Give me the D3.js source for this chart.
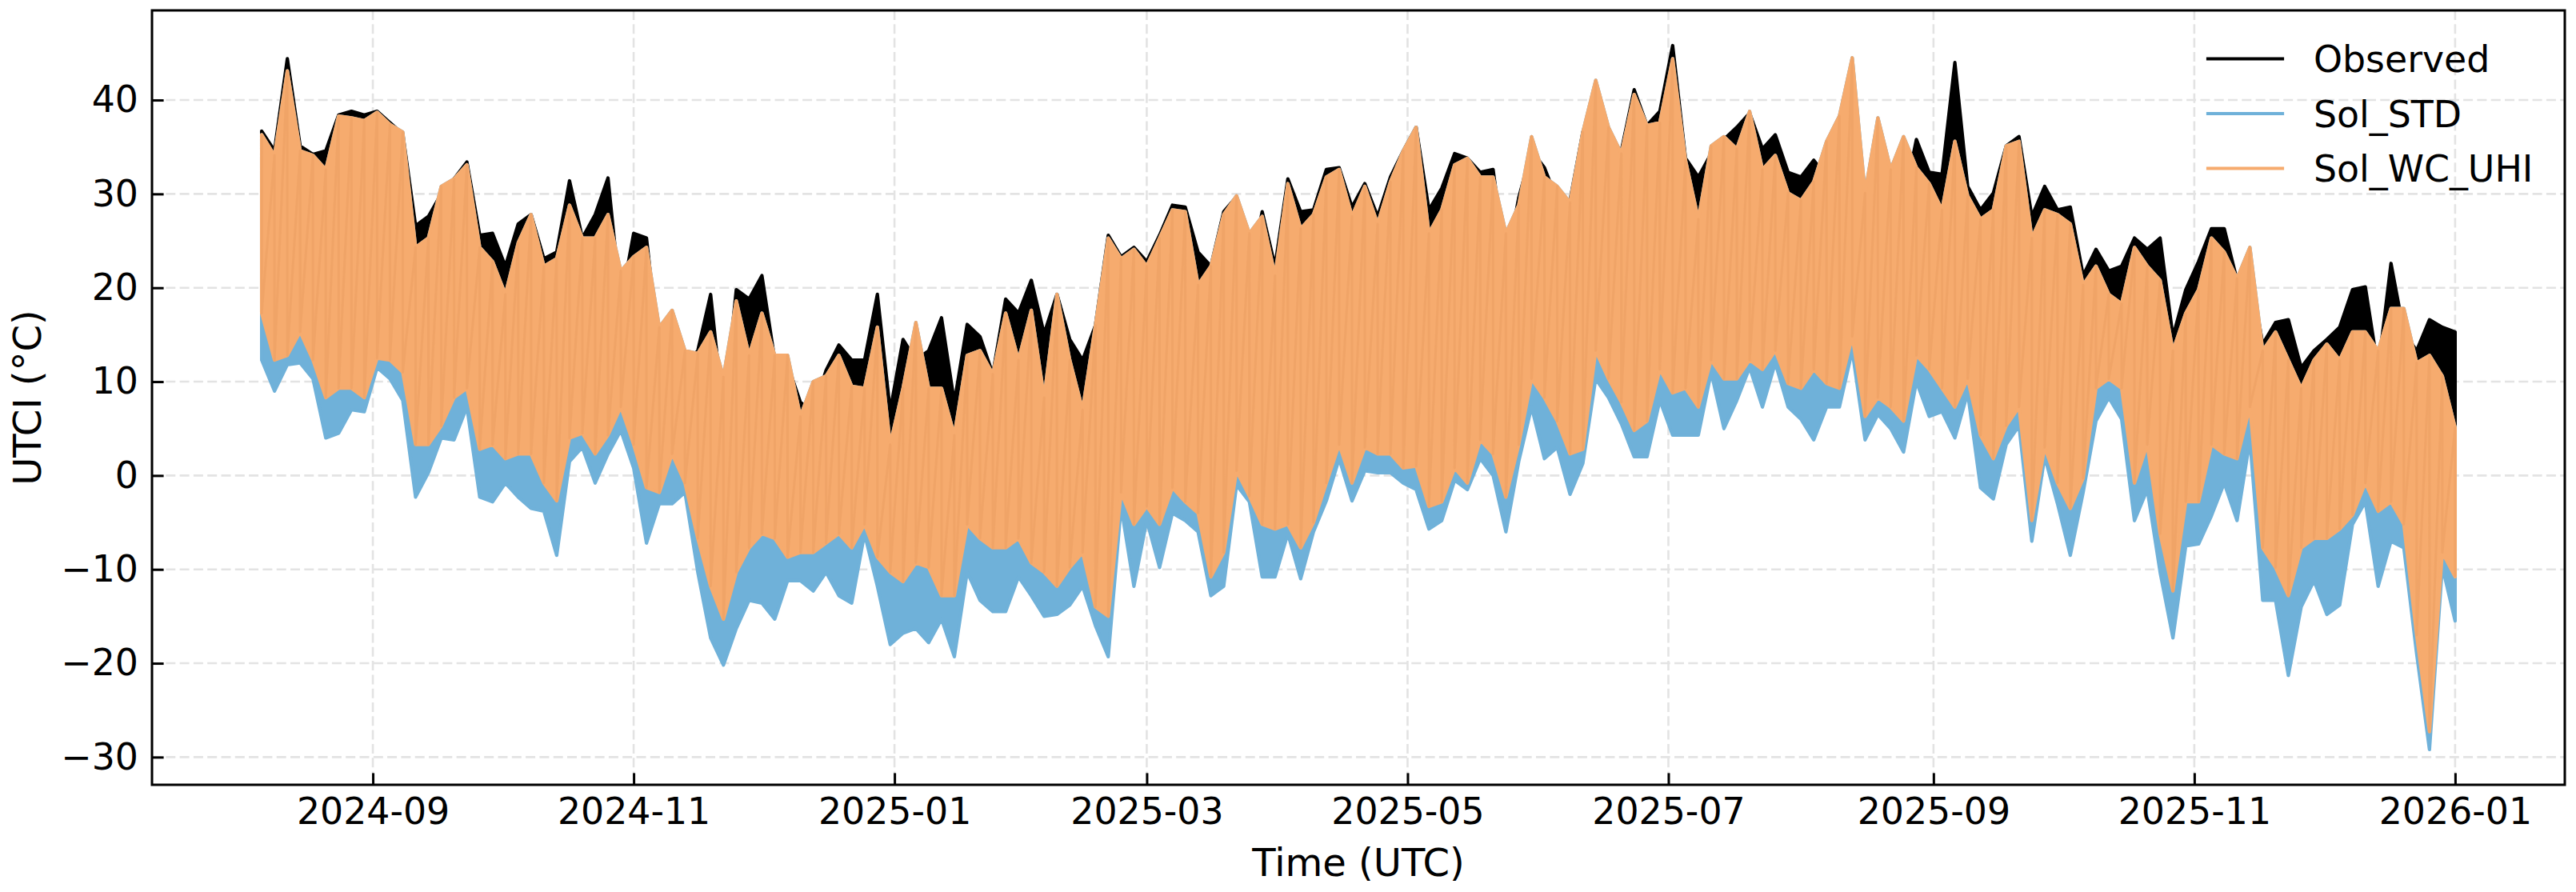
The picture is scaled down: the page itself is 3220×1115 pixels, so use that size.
<!DOCTYPE html>
<html>
<head>
<meta charset="utf-8">
<script src="https://cdn.jsdelivr.net/npm/d3@7"></script>
<style>
	body { margin: 0; background: #fff; }
	svg { display: block; font-family: "DejaVu Sans", sans-serif; }
</style>
</head>
<body>
<div id="chart"></div>
<script>
// 3-day envelopes, first window starts 2024-08-06
var start_date = '2024-08-06';
var step_days  = 3;

var obs_max = [36.7,34.6,44.4,35.1,34.2,34.6,38.4,38.8,38.4,38.8,37.6,36.4,26.6,27.6,30.0,31.6,33.4,25.6,25.8,22.3,26.8,27.8,
	23.1,23.8,31.4,25.3,27.8,31.7,18.3,25.8,25.3,12.8,14.0,11.8,13.3,19.3,6.3,19.8,18.8,21.3,12.3,11.8,7.8,
	6.8,11.2,13.9,12.3,12.3,19.3,6.9,14.5,12.3,13.3,16.8,7.8,16.1,14.8,10.8,18.8,17.3,20.8,15.1,19.3,14.5,12.3,
	16.0,25.6,23.3,24.3,22.8,25.6,28.8,28.6,23.8,22.3,28.1,29.7,21.3,28.1,22.3,31.6,28.1,28.3,32.6,32.8,28.6,
	31.1,27.6,31.8,34.6,37.1,28.3,30.6,34.3,33.8,32.3,32.6,22.3,29.6,34.6,32.8,29.3,29.3,36.6,40.4,31.8,34.6,41.1,
	37.3,38.8,45.8,33.8,31.8,34.3,35.8,37.1,38.6,34.8,36.3,32.3,31.8,33.6,31.8,37.8,42.9,27.1,35.3,32.8,29.1,
	35.8,32.3,32.1,44.0,30.8,28.3,30.1,35.1,36.1,27.6,30.8,28.3,28.6,21.3,24.1,21.8,22.3,25.3,24.1,25.3,14.8,19.8,
	22.8,26.3,26.3,20.8,21.8,14.0,16.3,16.6,11.5,13.3,14.5,15.8,19.8,20.1,11.3,22.6,15.3,13.3,16.6,15.8,15.3];

var uhi_max = [36.3,34.1,43.1,34.6,34.1,32.6,38.3,38.1,37.8,38.7,37.4,36.6,24.3,25.3,30.8,31.6,33.1,24.3,22.8,19.3,24.8,27.8,
	22.3,23.1,28.8,25.3,25.3,27.8,21.8,23.3,24.3,15.8,17.6,13.3,13.0,15.3,10.5,18.6,12.8,17.3,12.8,12.8,6.3,
	10.0,10.6,12.8,9.5,9.3,15.8,3.3,9.3,16.3,9.3,9.3,4.3,12.8,13.3,10.8,17.3,12.3,17.6,8.3,19.3,12.3,7.0,
	16.0,25.3,23.1,24.1,22.3,25.3,28.3,28.1,20.3,22.3,27.8,29.8,25.8,27.6,21.3,31.1,26.3,27.8,31.8,32.6,27.6,
	30.8,26.8,31.3,34.6,37.1,25.8,28.3,33.1,33.8,31.8,31.8,25.8,28.8,36.1,31.8,30.8,29.1,36.6,42.1,37.1,34.3,40.6,
	37.3,37.6,44.4,33.6,27.3,35.1,36.1,34.8,38.8,32.6,34.1,30.1,29.3,31.3,35.6,38.3,44.5,30.1,38.1,32.6,36.1,
	32.8,31.1,28.3,35.6,29.8,27.3,28.3,35.1,35.6,25.3,28.3,27.8,26.8,20.3,22.3,19.3,18.3,24.3,22.3,20.8,13.3,17.3,
	19.8,25.3,23.8,21.0,24.3,13.3,15.3,12.3,9.3,12.3,14.0,12.3,15.3,15.3,13.3,17.8,17.8,12.0,12.8,10.6,5.1];

var uhi_min = [17.3,12.3,12.8,15.3,12.3,8.3,9.3,9.3,8.3,12.5,12.3,11.0,3.3,3.3,5.3,8.3,9.3,2.8,3.3,1.8,2.3,2.3,
	-0.8,-2.7,4.0,4.5,2.3,4.3,7.3,3.3,-1.3,-1.8,2.3,-0.8,-6.7,-11.8,-15.3,-10.3,-7.7,-6.2,-6.7,-8.7,-8.2,
	-8.2,-7.2,-6.2,-7.7,-5.2,-8.7,-10.3,-11.3,-9.3,-9.8,-12.8,-12.8,-5.2,-6.7,-7.7,-7.7,-6.7,-9.3,-10.3,-11.8,-9.8,-8.2,
	-14.0,-15.0,-1.8,-5.2,-3.3,-5.2,-1.3,-2.8,-4.0,-10.8,-8.2,0.5,-2.2,-5.2,-5.7,-5.2,-7.7,-5.0,-0.8,3.3,-0.8,
	3.0,2.3,2.3,0.8,1.0,-3.3,-2.8,0.8,-0.8,3.8,2.3,-2.3,3.3,10.3,8.3,5.8,2.3,2.8,13.3,10.3,7.8,4.8,
	5.8,11.3,8.8,9.3,7.3,12.3,10.3,10.3,12.3,11.3,13.3,9.8,9.3,11.3,9.8,9.3,14.8,6.3,8.3,7.3,5.8,
	12.8,11.3,9.3,7.3,10.3,4.3,1.8,5.3,7.3,-4.8,3.0,-0.8,-3.5,-0.3,9.3,10.3,9.3,-0.8,3.3,-6.2,-12.3,-2.8,
	-2.8,3.3,2.3,1.8,7.3,-7.7,-9.8,-12.8,-7.7,-6.7,-6.7,-5.7,-4.2,-0.8,-3.8,-2.8,-5.2,-17.0,-27.3,-8.2,-10.8];

var std_min = [12.3,9.0,11.8,12.0,10.3,4.0,4.5,7.0,6.8,11.5,10.3,8.0,-2.3,0.3,4.0,3.8,7.3,-2.3,-2.8,-0.8,-2.3,-3.5,
	-3.8,-8.5,1.5,3.0,-0.8,2.3,4.8,0.8,-7.2,-3.0,-3.0,-1.8,-10.3,-17.3,-20.2,-16.3,-13.3,-13.6,-15.3,-11.2,-11.2,
	-12.3,-10.3,-12.8,-13.6,-6.2,-11.8,-18.0,-16.8,-16.3,-17.8,-15.3,-19.3,-10.3,-13.3,-14.5,-14.5,-10.8,-12.8,-15.0,-14.8,-13.8,-11.8,
	-16.0,-19.3,-3.3,-11.8,-4.8,-9.8,-4.0,-4.8,-6.0,-12.8,-11.8,-1.0,-2.8,-10.8,-10.8,-6.2,-11.0,-6.0,-2.7,1.8,-2.7,
	0.5,0.3,0.3,-0.8,-1.5,-5.7,-4.8,-0.5,-1.5,1.8,0.0,-6.0,1.5,7.3,1.8,3.0,-2.0,1.3,10.3,8.3,5.5,2.0,
	2.0,8.0,4.3,4.3,4.3,11.0,5.0,8.0,11.5,7.3,12.0,7.3,6.0,3.8,7.3,7.3,13.3,3.8,6.5,5.0,2.5,
	10.0,6.3,6.8,4.0,8.8,-1.3,-2.5,3.3,5.3,-7.0,2.0,-3.0,-8.5,-1.8,5.8,8.3,6.0,-4.8,-1.5,-10.3,-17.3,-7.5,
	-7.3,-4.3,-0.8,-4.8,3.8,-13.3,-13.3,-21.3,-14.0,-11.2,-14.8,-13.8,-5.2,-2.8,-11.8,-7.0,-7.7,-19.0,-29.2,-9.7,-15.5];

// the Observed trough and the Sol_STD peak are hidden under the orange band
var obs_min = uhi_min;
var std_max = uhi_max;

var series_names  = ['Observed', 'Sol_STD', 'Sol_WC_UHI'];
var series_colors = ['#000000', '#6fb1d9', '#f6ab6e'];
var y_ticks       = [-30, -20, -10, 0, 10, 20, 30, 40];
var x_tick_labels = ['2024-09','2024-11','2025-01','2025-03','2025-05','2025-07','2025-09','2025-11','2026-01'];


// Create SVG Element
var chart_width   = 3220;
var chart_height  = 1115;
var plot_left     = 190;
var plot_right    = 3206;
var plot_top      = 13;
var plot_bottom   = 981;
var tick_font     = 45.8;
var label_font    = 48;
var line_w        = 4.2;

var svg = d3.select( '#chart' )
	.append( 'svg' )
	.attr( 'width', chart_width )
	.attr( 'height', chart_height );

var parse_day   = d3.utcParse( '%Y-%m-%d' );
var parse_month = d3.utcParse( '%Y-%m' );
var t0 = parse_day( start_date );
var dates = obs_max.map(function( d, i ){
	return d3.utcDay.offset( t0, i * step_days );
});


// create scales (5% margins like the original plot)
var t_pad  = ( dates[dates.length - 1] - dates[0] ) * 0.05;
var x_scale = d3.scaleUtc()
	.domain([ new Date( +dates[0] - t_pad ), new Date( +dates[dates.length - 1] + t_pad ) ])
	.range([ plot_left, plot_right ]);

var v_min = d3.min( std_min.concat( uhi_min ) );
var v_max = d3.max( obs_max.concat( uhi_max ) );
var v_pad = ( v_max - v_min ) * 0.05;
var y_scale = d3.scaleLinear()
	.domain([ v_min - v_pad, v_max + v_pad ])
	.range([ plot_bottom, plot_top ]);


// grid
var grid = svg.append( 'g' )
	.attr( 'stroke', '#e3e3e3' )
	.attr( 'stroke-width', 2.6 )
	.attr( 'stroke-dasharray', '12,5.3' );

grid.selectAll( '.hgrid' )
	.data( y_ticks )
	.enter()
	.append( 'line' )
	.attr( 'x1', plot_left )
	.attr( 'x2', plot_right )
	.attr( 'y1', function(d){ return y_scale(d); } )
	.attr( 'y2', function(d){ return y_scale(d); } );

grid.selectAll( '.vgrid' )
	.data( x_tick_labels )
	.enter()
	.append( 'line' )
	.attr( 'y1', plot_top )
	.attr( 'y2', plot_bottom )
	.attr( 'x1', function(d){ return x_scale( parse_month(d) ); } )
	.attr( 'x2', function(d){ return x_scale( parse_month(d) ); } );


// series bands, drawn in legend order so the orange one ends on top
var series_lo = [ obs_min, std_min, uhi_min ];
var series_hi = [ obs_max, std_max, uhi_max ];

var plot = svg.append( 'g' );

series_names.forEach(function( name, s ){
	var lo = series_lo[s], hi = series_hi[s];

	var band = d3.area()
		.x(function( d ){ return x_scale( d ); })
		.y0(function( d, i ){ return y_scale( lo[i] ); })
		.y1(function( d, i ){ return y_scale( hi[i] ); });

	plot.append( 'path' )
		.datum( dates )
		.attr( 'd', band )
		.attr( 'fill', series_colors[s] )
		.attr( 'stroke', series_colors[s] )
		.attr( 'stroke-width', line_w )
		.attr( 'stroke-linejoin', 'round' );
});

// faint streaks inside the orange band: the peak-to-trough swing of each window
var swing = [];
dates.forEach(function( d, i ){
	swing.push({ date: d, v: uhi_max[i] });
	swing.push({ date: d, v: uhi_min[i] });
});

plot.append( 'path' )
	.datum( swing )
	.attr( 'd', d3.line()
		.x(function( d ){ return x_scale( d.date ); })
		.y(function( d ){ return y_scale( d.v ); }) )
	.attr( 'fill', 'none' )
	.attr( 'stroke', '#e39457' )
	.attr( 'stroke-opacity', 0.28 )
	.attr( 'stroke-width', 3 )
	.attr( 'stroke-linejoin', 'round' );


// axes, ticks pointing in
var y_axis = d3.axisLeft( y_scale )
	.tickValues( y_ticks )
	.tickSize( -14.6 )
	.tickPadding( 17 );

var x_axis = d3.axisBottom( x_scale )
	.tickValues( x_tick_labels.map( parse_month ) )
	.tickFormat( d3.utcFormat( '%Y-%m' ) )
	.tickSize( -14.6 )
	.tickPadding( 16 );

var gy = svg.append( 'g' )
	.attr( 'transform', 'translate(' + plot_left + ',0)' )
	.call( y_axis );

var gx = svg.append( 'g' )
	.attr( 'transform', 'translate(0,' + plot_bottom + ')' )
	.call( x_axis );

[ gy, gx ].forEach(function( g ){
	g.select( '.domain' ).remove();
	g.selectAll( 'line' ).attr( 'stroke', '#000' ).attr( 'stroke-width', 3 );
	g.selectAll( 'text' )
		.attr( 'font-size', tick_font )
		.attr( 'font-family', '"DejaVu Sans", sans-serif' )
		.attr( 'fill', '#000' );
});

svg.append( 'rect' )
	.attr( 'x', plot_left )
	.attr( 'y', plot_top )
	.attr( 'width', plot_right - plot_left )
	.attr( 'height', plot_bottom - plot_top )
	.attr( 'fill', 'none' )
	.attr( 'stroke', '#000' )
	.attr( 'stroke-width', 3 );


// axis labels
svg.append( 'text' )
	.text( 'Time (UTC)' )
	.attr( 'x', ( plot_left + plot_right ) / 2 )
	.attr( 'y', 1095 )
	.attr( 'font-size', label_font )
	.attr( 'text-anchor', 'middle' );

svg.append( 'text' )
	.text( 'UTCI (°C)' )
	.attr( 'transform', 'translate(51,' + ( plot_top + plot_bottom ) / 2 + ') rotate(-90)' )
	.attr( 'font-size', label_font )
	.attr( 'text-anchor', 'middle' );


// legend
var legend = svg.selectAll( '.legend' )
	.data( series_names )
	.enter()
	.append( 'g' )
	.attr( 'transform', function( d, i ){
		return 'translate(2760,' + ( 73.5 + i * 68.5 ) + ')';
	});

legend.append( 'line' )
	.attr( 'x1', 0 )
	.attr( 'x2', 93 )
	.attr( 'stroke', function( d, i ){ return series_colors[i]; } )
	.attr( 'stroke-width', line_w )
	.attr( 'stroke-linecap', 'square' );

legend.append( 'text' )
	.text(function( d ){ return d; })
	.attr( 'x', 132 )
	.attr( 'y', 16.5 )
	.attr( 'font-size', tick_font );
</script>
</body>
</html>
